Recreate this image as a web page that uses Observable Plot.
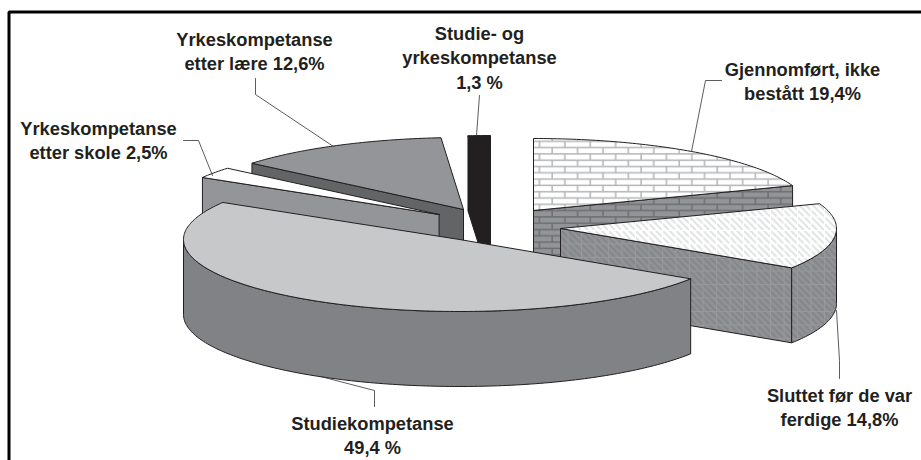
<!DOCTYPE html>
<html>
<head>
<meta charset="utf-8">
<script src="https://cdn.jsdelivr.net/npm/d3@7"></script>
<script src="https://cdn.jsdelivr.net/npm/@observablehq/plot@0.6"></script>
<style>html,body{margin:0;padding:0;background:#fff}svg{display:block}</style>
</head>
<body>
<div id="chart"></div>
<script>
// Data, clockwise from twelve o'clock
const categories = ["Gjennomført, ikke bestått","Sluttet før de var ferdige","Studiekompetanse","Yrkeskompetanse etter skole","Yrkeskompetanse etter lære","Studie- og yrkeskompetanse"];
const shares = [19.4, 14.8, 49.4, 2.5, 12.6, 1.3];
const labelTexts = ["Gjennomført, ikke\nbestått 19,4%","Sluttet før de var\nferdige 14,8%","Studiekompetanse\n49,4 %","Yrkeskompetanse\netter skole 2,5%","Yrkeskompetanse\netter lære 12,6%","Studie- og\nyrkeskompetanse\n1,3 %"];

// Layout of the exploded, tilted pie
const rx = 276, ry = 72, depth = 75;
const hubX = [533, 560, 459, 438.6, 463, 490];
const hubY = [210, 228, 239, 214, 209, 207];
const labelX = [802, 839, 372, 98, 254, 479];
const labelY = [80, 405.5, 434, 139, 50, 56];
const leaders = [
  [[721,80],[705,80],[691,151]],
  [[836,310],[839,360],[839,378]],
  [[374,406],[374,390],[320,376]],
  [[183,140],[198,140],[212,175]],
  [[255,78],[255,94],[333,146]],
  [[479,95],[476,135]]
];

let cum = 0;
const slices = shares.map((v, i) => {
  const a0 = cum / 100 * 360; cum += v; const a1 = cum / 100 * 360;
  const pt = (a, dy = 0) => {
    const t = a * Math.PI / 180;
    return {x: hubX[i] + rx * Math.sin(t), y: hubY[i] - ry * Math.cos(t) + dy};
  };
  const arc = (from, to, dy = 0) => {
    const n = Math.max(2, Math.ceil(Math.abs(to - from)));
    return d3.range(n + 1).map(k => pt(from + (to - from) * k / n, dy));
  };
  const hub = {x: hubX[i], y: hubY[i]};
  const hubB = {x: hubX[i], y: hubY[i] + depth};
  const close = p => [...p, p[0]];
  return {
    top: close([hub, ...arc(a0, a1)]),
    startFace: close([hub, pt(a0), pt(a0, depth), hubB]),
    endFace: close([hub, pt(a1), pt(a1, depth), hubB]),
    rim: (f, t) => close([...arc(f, t), ...arc(t, f, depth)])
  };
});

const ink = "#231f20";
const poly = (pts, fill) => Plot.line(pts, {x: "x", y: "y", fill, stroke: ink, strokeWidth: 1, curve: "linear"});
const thin = (pts) => Plot.line(pts.map(([x, y]) => ({x, y})), {x: "x", y: "y", stroke: "#333", strokeWidth: 0.8, curve: "linear"});

const defs = () => {
  const d = d3.create("svg:defs");
  const brick = (id, bg, mortar, mw) => {
    const p = d.append("pattern").attr("id", id).attr("patternUnits", "userSpaceOnUse")
      .attr("x", 533).attr("y", 140).attr("width", 25.4).attr("height", 12.6);
    p.append("rect").attr("width", 25.4).attr("height", 12.6).attr("fill", bg);
    const line = (x1, y1, x2, y2) => p.append("line").attr("x1", x1).attr("y1", y1).attr("x2", x2).attr("y2", y2)
      .attr("stroke", mortar).attr("stroke-width", mw);
    line(0, 0.8, 25.4, 0.8); line(0, 7.1, 25.4, 7.1);
    line(6, 0.8, 6, 7.1); line(18.7, 7.1, 18.7, 12.6); line(18.7, 0, 18.7, 0.8);
  };
  brick("brickTop", "#ffffff", "#b4b5b8", 1.5);
  brick("brickFace", "#929497", "#6d6e71", 1.5);
  const hatch = (id, bg, stripe, grid) => {
    const s = 6.75;
    const S = 13.5;
    const p = d.append("pattern").attr("id", id).attr("patternUnits", "userSpaceOnUse")
      .attr("width", S).attr("height", S);
    p.append("rect").attr("width", S).attr("height", S).attr("fill", bg);
    let path = "";
    for (let k = -2; k <= 2; k++) path += `M${k*s},0L${k*s+S},${S}`;
    p.append("path").attr("d", path).attr("stroke", stripe).attr("stroke-width", 1.8);
    p.append("path").attr("d", `M0,0.5H${S}M0.5,0V${S}`).attr("stroke", grid).attr("stroke-width", 1);
  };
  hatch("hatchTop", "#ffffff", "#dedfe0", "#ffffff");
  hatch("hatchFace", "#909295", "#838588", "#96989b");
  return d.node();
};

const [gj, sl, st, sk, la, sy] = slices;
const chart = Plot.plot({
  width: 921, height: 460,
  margin: 0,
  style: {background: "#fff"},
  x: {domain: [0, 921], range: [0, 921], axis: null},
  y: {domain: [0, 460], range: [0, 460], axis: null},
  marks: [
    defs,
    // frame: top and left only
    Plot.line([{x: 8.5, y: 460}, {x: 8.5, y: 11.5}, {x: 921, y: 11.5}], {x: "x", y: "y", stroke: "#000", strokeWidth: 3, strokeLinejoin: "miter", curve: "linear"}),
    // back to front
    poly(sy.startFace, ink), poly(sy.top, ink),
    poly(la.startFace, "#636466"), poly(la.top, "#939598"),
    poly(sk.startFace, "#939598"), poly(sk.top, "#ffffff"),
    poly(gj.endFace, "url(#brickFace)"), poly(gj.top, "url(#brickTop)"),
    poly(sl.endFace, "url(#hatchFace)"), poly(sl.rim(90, 123.12), "url(#hatchFace)"), poly(sl.top, "url(#hatchTop)"),
    poly(st.rim(123.12, 270), "#808285"), poly(st.top, "#c7c8ca"),
    ...leaders.map(thin),
    Plot.text(labelTexts, {
      x: (_, i) => labelX[i], y: (_, i) => labelY[i], text: d => d,
      fontFamily: "Liberation Sans", fontWeight: "bold", fontSize: 18.3, lineHeight: 1.33, fill: ink
    })
  ]
});
document.getElementById("chart").append(chart);
</script>
</body>
</html>
